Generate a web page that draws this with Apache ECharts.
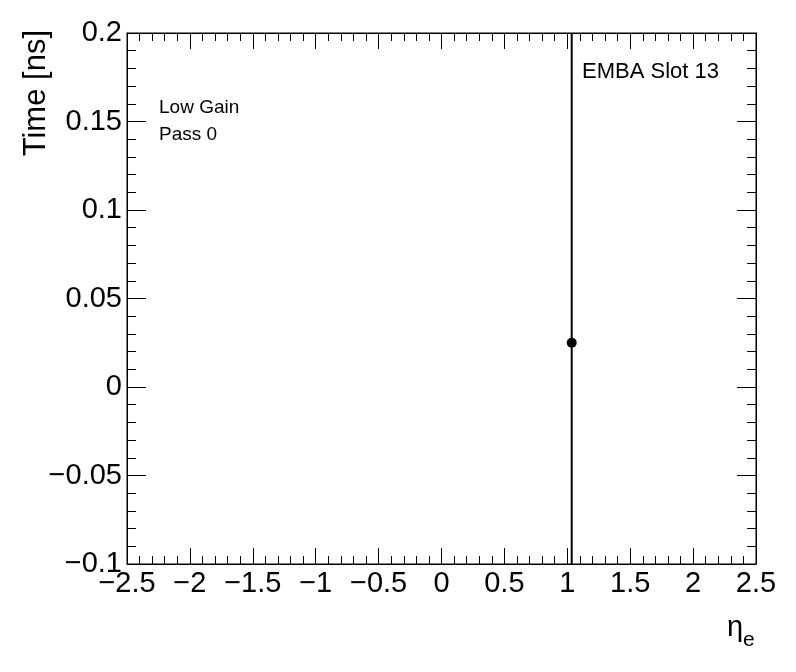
<!DOCTYPE html>
<html><head><meta charset="utf-8">
<script src="https://cdn.jsdelivr.net/npm/echarts@6/dist/echarts.min.js"></script>
<style>html,body{margin:0;padding:0;background:#fff}#c{width:796px;height:672px}</style>
</head><body><div id="c"></div>
<script>
const etaValues = [1.035];
const timeValues = [0.025];
const timeErrors = [0.5];
const xRange = [-2.5, 2.5];
const yRange = [-0.1, 0.2];
const annotations = ["Low Gain", "Pass 0"];
const slotLabel = "EMBA Slot 13";
const yTitle = "Time [ns]";

const FONT = "Liberation Sans, Arial, sans-serif";
const fmt = v => { const s = String(parseFloat(Number(v).toFixed(3))); return s.replace('-', '\u2212'); };

const chart = echarts.init(document.getElementById('c'), null, {renderer: 'canvas'});
const axisCommon = {
  type: 'value',
  axisLine: {show: true, onZero: false, lineStyle: {color: '#000', width: 1}},
  splitLine: {show: false},
  minorSplitLine: {show: false},
};
const xBase = Object.assign({}, axisCommon, {
  min: xRange[0], max: xRange[1], interval: 0.5,
  axisTick: {show: true, inside: true, length: 16, lineStyle: {color: '#000'}},
  minorTick: {show: true, splitNumber: 5, length: 8, lineStyle: {color: '#000'}},
});
const yBase = Object.assign({}, axisCommon, {
  min: yRange[0], max: yRange[1], interval: 0.05,
  axisTick: {show: true, inside: true, length: 19, lineStyle: {color: '#000'}},
  minorTick: {show: true, splitNumber: 5, length: 9, lineStyle: {color: '#000'}},
});

const pts = etaValues.map((x, i) => [x, timeValues[i], timeErrors[i]]);

chart.setOption({
  animation: false,
  backgroundColor: '#fff',
  grid: {left: 127, right: 40, top: 33, bottom: 108, show: true, borderColor: '#000', borderWidth: 1, backgroundColor: 'transparent'},
  xAxis: [
    Object.assign({}, xBase, {position: 'bottom',
      axisLabel: {show: true, color: '#000', fontSize: 29, fontFamily: FONT, margin: 5, formatter: fmt, showMinLabel: true, showMaxLabel: true}}),
    Object.assign({}, xBase, {position: 'top', axisLabel: {show: false}})
  ],
  yAxis: [
    Object.assign({}, yBase, {position: 'left',
      axisLabel: {show: true, color: '#000', fontSize: 29, fontFamily: FONT, margin: 5, formatter: fmt, showMinLabel: true, showMaxLabel: true}}),
    Object.assign({}, yBase, {position: 'right', axisLabel: {show: false}})
  ],
  series: [
    {
      type: 'custom',
      xAxisIndex: 0, yAxisIndex: 0,
      data: pts,
      clip: true,
      renderItem: function (params, api) {
        const x = api.value(0), y = api.value(1), e = api.value(2);
        const p1 = api.coord([x, y - e]);
        const p2 = api.coord([x, y + e]);
        const cs = params.coordSys;
        const top = Math.max(p2[1], cs.y), bot = Math.min(p1[1], cs.y + cs.height);
        return {type: 'line', shape: {x1: p1[0], y1: bot, x2: p2[0], y2: top},
          style: {stroke: '#000', lineWidth: 2}};
      },
      z: 2
    },
    {
      type: 'scatter', xAxisIndex: 0, yAxisIndex: 0,
      data: pts.map(p => [p[0], p[1]]),
      symbol: 'circle', symbolSize: 10,
      itemStyle: {color: '#000', opacity: 1}, z: 3
    }
  ],
  graphic: [
    {type: 'text', left: 159, top: 98, style: {text: annotations[0], font: '19px ' + FONT, fill: '#000'}},
    {type: 'text', left: 159, top: 125, style: {text: annotations[1], font: '19px ' + FONT, fill: '#000'}},
    {type: 'text', left: 582, top: 61, style: {text: slotLabel, font: '22px ' + FONT, fill: '#000'}},
    {type: 'text', x: 21, y: 30, rotation: Math.PI / 2,
      style: {text: yTitle, font: '31px ' + FONT, fill: '#000', textAlign: 'right', textVerticalAlign: 'top'}},
    {type: 'text', left: 727, top: 613, style: {text: '\u03b7', font: '29px ' + FONT, fill: '#000'}},
    {type: 'text', left: 743, top: 630, style: {text: 'e', font: '21px ' + FONT, fill: '#000'}}
  ]
});
</script></body></html>
